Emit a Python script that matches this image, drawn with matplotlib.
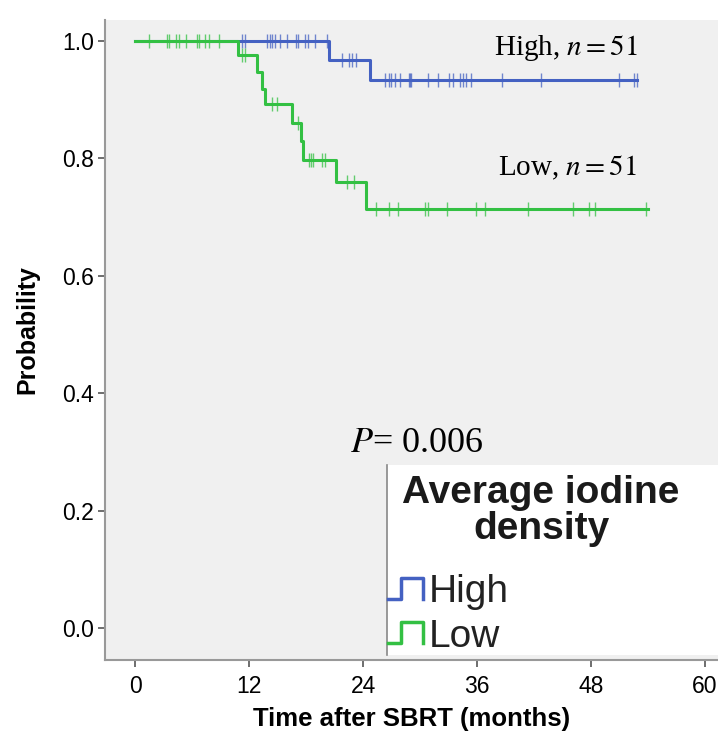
"""Kaplan-Meier curves by average iodine density."""
import numpy as np
import matplotlib
matplotlib.use("Agg")
import matplotlib.pyplot as plt
from matplotlib.legend_handler import HandlerBase
from matplotlib.lines import Line2D
from matplotlib.patches import Rectangle

# step curves: event times (months) and survival after each step
high_times = [0, 20.4, 24.7]
high_surv = [1.0, 0.967, 0.933]
high_end = 52.9
low_times = [0, 10.8, 12.8, 13.4, 13.7, 16.5, 17.5, 17.7, 21.2, 24.3]
low_surv = [1.0, 0.976, 0.948, 0.919, 0.893, 0.860, 0.829, 0.797, 0.759, 0.713]
low_end = 54.0

# censored observations (months)
high_censor = [11.3, 11.6, 13.9, 14.2, 14.4, 14.7, 15.3, 16.0, 16.9, 17.2,
               17.9, 18.2, 18.9, 20.2, 21.8, 22.5, 22.8, 23.3, 26.3, 26.7,
               27.0, 27.4, 27.9, 28.8, 29.0, 29.1, 30.9, 31.9, 33.1, 33.5,
               34.2, 34.5, 34.9, 35.4, 38.6, 42.8, 51.0, 52.6, 52.9]
low_censor = [1.5, 3.4, 3.6, 4.3, 4.6, 5.3, 6.5, 6.7, 7.4, 7.8, 8.8, 11.3,
              11.6, 14.4, 14.9, 17.2, 18.3, 18.5, 18.7, 19.7, 20.0, 22.3,
              23.1, 25.4, 26.7, 27.7, 30.5, 30.9, 32.8, 35.9, 36.8, 41.4,
              46.1, 47.8, 48.4, 53.8]

group_labels = ["High", "Low"]
group_n = [51, 51]
legend_title = "Average iodine\ndensity"
p_value = "0.006"
x_ticks = [0, 12, 24, 36, 48, 60]
y_ticks = [0.0, 0.2, 0.4, 0.6, 0.8, 1.0]

BLUE = "#4461c2"
GREEN = "#33c043"


def surv_at(times, surv, t):
    idx = np.searchsorted(times, t, side="right") - 1
    return np.asarray(surv)[idx]


class StepHandler(HandlerBase):
    def create_artists(self, legend, orig, xd, yd, width, height, fontsize, trans):
        xs = np.array([0.0, 0.35, 0.35, 0.9, 0.9]) * width - xd
        ys = np.array([0.1, 0.1, 0.95, 0.95, 0.1]) * height - yd
        line = Line2D(xs, ys, color=orig.get_color(), lw=2.5, transform=trans)
        return [line]


plt.rcParams["font.family"] = ["Liberation Sans", "DejaVu Sans"]
plt.rcParams["mathtext.fontset"] = "stix"

fig = plt.figure(figsize=(7.18, 7.37), dpi=100)
ax = fig.add_axes([0.146, 0.1045, 0.854, 0.8685])
ax.set_facecolor("#f0f0f0")

handles = []
for times, surv, end, cens, color in [
    (high_times, high_surv, high_end, high_censor, BLUE),
    (low_times, low_surv, low_end, low_censor, GREEN),
]:
    xs = list(times) + [end]
    ys = list(surv) + [surv[-1]]
    (ln,) = ax.step(xs, ys, where="post", color=color, lw=2.2)
    ax.plot(cens, surv_at(times, surv, cens), ls="none", marker="|",
            ms=10, mew=1.0, color=color, alpha=0.75)
    handles.append(ln)

ax.set_xlim(-3.2, 61.4)
ax.set_ylim(-0.0545, 1.036)
ax.set_xticks(x_ticks)
ax.set_yticks(y_ticks)
ax.set_yticklabels([f"{v:.1f}" for v in y_ticks])
ax.tick_params(labelsize=16.5, color="#555555", length=5, width=1.2)
ax.tick_params(axis="y", pad=3)
ax.tick_params(axis="x", pad=6)
for side in ["top", "right"]:
    ax.spines[side].set_visible(False)
for side in ["left", "bottom"]:
    ax.spines[side].set_color("#999999")
    ax.spines[side].set_linewidth(1.5)

ax.set_xlabel("Time after SBRT (months)", fontsize=18.5, fontweight="bold", labelpad=6)
ax.set_ylabel("Probability", fontsize=18, fontweight="bold")
ax.yaxis.set_label_coords(-0.107, 0.516)

ax.text(52.9, 0.988, f"{group_labels[0]}, $n = {group_n[0]}$", ha="right",
        va="center", fontsize=21, family="Liberation Serif")
ax.text(52.9, 0.784, f"{group_labels[1]}, $n = {group_n[1]}$", ha="right",
        va="center", fontsize=21, family="Liberation Serif")
ax.text(22.6, 0.315, f"$P$= {p_value}", ha="left", va="center", fontsize=26,
        family="Liberation Serif")

# white legend panel with a grey left edge
ax.add_patch(Rectangle((0.539, 0.111), 0.461, 0.258, transform=fig.transFigure,
                       facecolor="white", edgecolor="none", zorder=4, clip_on=False))
ax.add_line(Line2D([0.539, 0.539], [0.111, 0.369], color="#888888", lw=1.2,
                   transform=fig.transFigure, zorder=4, clip_on=False))
ax.text(0.7535, 0.3066, legend_title, transform=fig.transFigure, ha="center",
        va="center", multialignment="center", linespacing=1.0, fontsize=28,
        fontweight="bold", color="#1a1a1a", zorder=6)

leg = ax.legend(handles, group_labels,
                handler_map={h: StepHandler() for h in handles},
                loc="center left", bbox_to_anchor=(0.540, 0.166),
                bbox_transform=fig.transFigure, frameon=False,
                fontsize=28, borderpad=0.0, handlelength=1.0, handleheight=0.6,
                handletextpad=0.05, labelspacing=0.22, borderaxespad=0.0)
leg.set_zorder(6)
for t in leg.get_texts():
    t.set_color("#222222")

fig.savefig("out.png", dpi=100, facecolor="white")
